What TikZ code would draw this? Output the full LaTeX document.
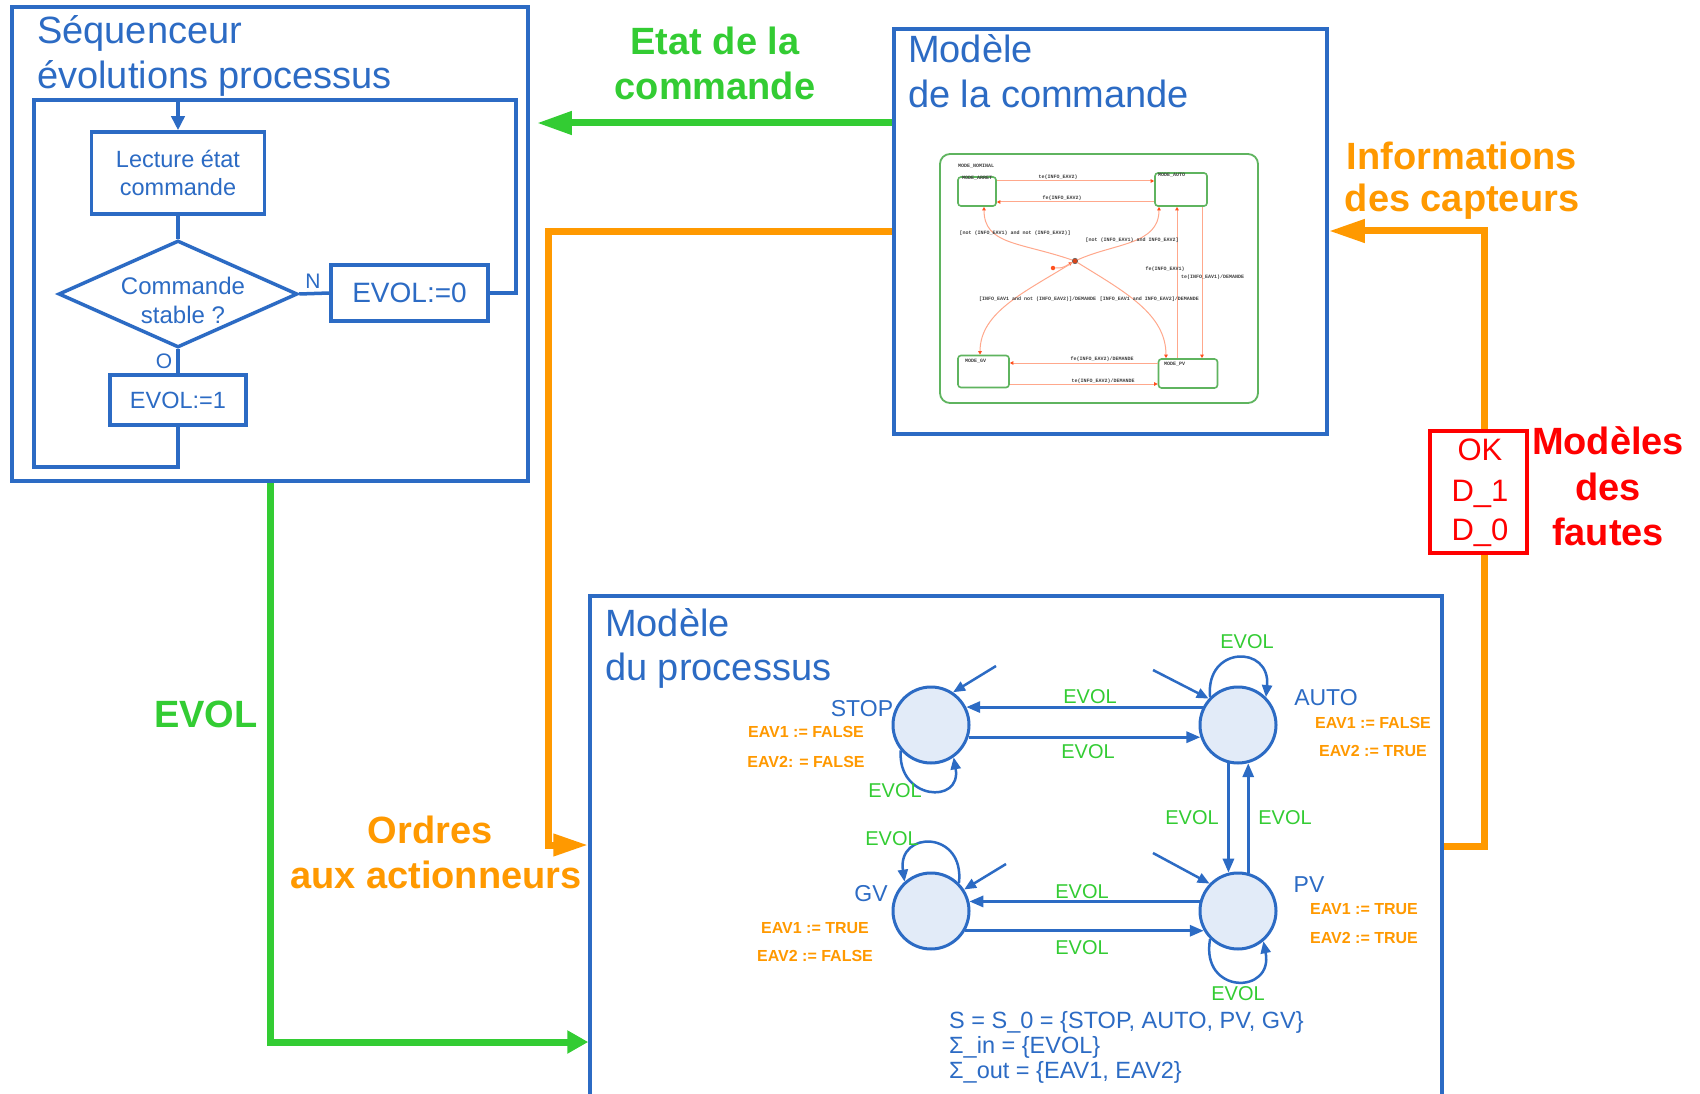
\documentclass[tikz,border=0pt]{standalone}
\usepackage{fontspec}
\setmainfont{Liberation Sans}
\newfontfamily\scmono{Liberation Mono}
\usetikzlibrary{arrows.meta,shapes.geometric}
\definecolor{bl}{RGB}{44,107,196}
\definecolor{gr}{RGB}{51,204,51}
\definecolor{org}{RGB}{255,153,0}
\definecolor{rd}{RGB}{255,0,0}
\definecolor{stfill}{RGB}{226,235,248}
\definecolor{scgreen}{RGB}{95,180,95}
\definecolor{sctr}{RGB}{255,168,140}
\definecolor{scarr}{RGB}{255,80,30}
\tikzset{
  bigbox/.style={draw=bl, line width=3.5pt, inner sep=0pt},
  ttl/.style={text=bl, font=\fontsize{38}{45}\selectfont, anchor=base west, inner sep=0pt},
  fbox/.style={draw=bl, line width=3.5pt, text=bl, align=center, inner sep=0pt},
  fline/.style={draw=bl, line width=3.5pt},
  farrow/.style={fline, -{Triangle[length=14pt,width=13pt]}},
  bigtxt/.style={font=\bfseries\fontsize{38}{45}\selectfont, anchor=base, inner sep=0pt},
  garrow/.style={draw=gr, line width=7pt, -{Triangle[length=35pt,width=22pt]}},
  garrowb/.style={draw=gr, line width=7pt, -{Triangle[length=21pt,width=22pt]}},
  oarrow/.style={draw=org, line width=7pt, -{Triangle[length=35pt,width=21pt]}},
  oarrowb/.style={draw=org, line width=7pt, -{Triangle[length=36pt,width=22pt]}},
  fautetxt/.style={text=rd, font=\fontsize{31}{37}\selectfont, anchor=base, inner sep=0pt},
  stbox/.style={draw=scgreen, line width=1.6pt, rounded corners=3pt, inner sep=0pt},
  sctrans/.style={draw=sctr, line width=1pt, -{Triangle[length=3.5pt,width=3.5pt,color=scarr]}},
  sclab/.style={font={\scmono\bfseries\fontsize{5}{6}\selectfont}, text=black!75, inner sep=0pt},
  st/.style={circle, draw=bl, fill=stfill, line width=3pt, minimum size=76pt, inner sep=0pt},
  ptr/.style={draw=bl, line width=3pt, -{Triangle[length=14pt,width=11pt]}},
  ploop/.style={draw=bl, line width=2.5pt, -{Triangle[length=12pt,width=10pt]}},
  stname/.style={text=bl, font=\fontsize{23}{27}\selectfont, inner sep=0pt},
  ev/.style={text=gr, font=\fontsize{20}{24}\selectfont, inner sep=0pt},
  eav/.style={text=org, font=\bfseries\fontsize{16}{19}\selectfont, inner sep=0pt},
  sigtxt/.style={text=bl, font=\fontsize{23.5}{25}\selectfont, anchor=base west, inner sep=0pt}
}
\begin{document}
\begin{tikzpicture}[x=1pt,y=-1pt]
\fill[white] (0,0) rectangle (1700,1094);
\useasboundingbox (0,0) rectangle (1700,1094);

% ---------------- Sequenceur ----------------
\node[bigbox, minimum width=516pt, minimum height=474pt] (seq) at (270,244) {};
\node[ttl] (seqt1) at (37,44) {Séquenceur};
\node[ttl] (seqt2) at (37,89) {évolutions processus};
\node[fbox, minimum width=173pt, minimum height=82pt, font=\fontsize{23.5}{28}\selectfont] (lect) at (178,173) {Lecture état\\commande};
\node[diamond, draw=bl, line width=3.5pt, minimum width=239pt, minimum height=107pt, inner sep=0pt] (dia) at (178,294) {};
\node[text=bl, align=center, font=\fontsize{24}{29}\selectfont, inner sep=0pt] (diat) at (183,300) {Commande\\stable ?};
\node[fbox, minimum width=157pt, minimum height=56pt, font=\fontsize{28}{34}\selectfont] (e0) at (409.5,293) {EVOL:=0};
\node[fbox, minimum width=136pt, minimum height=50pt, font=\fontsize{23.5}{28}\selectfont] (e1) at (178,400) {EVOL:=1};
\node[text=bl, font=\fontsize{21}{25}\selectfont, inner sep=0pt] (lN) at (313,281) {N};
\node[text=bl, font=\fontsize{21}{25}\selectfont, inner sep=0pt] (lO) at (164,361) {O};
\coordinate (c1) at (34,467);
\coordinate (c2) at (34,100);
\coordinate (c3) at (516,100);
\draw[fline] (e1.south) -- (e1.south |- c1) -- (c1) -- (c2) -- (c3) -- (c3 |- e0.east) -- (e0.east);
\draw[farrow] (lect.north |- c2) -- (lect.north);
\draw[fline] (lect.south) -- (dia.north);
\draw[fline] (dia.east) -- (e0.west);
\draw[fline] (dia.south) -- (e1.north);

% ---------------- Modele de la commande ----------------
\node[bigbox, minimum width=433pt, minimum height=405pt] (cmd) at (1110.5,231.5) {};
\node[ttl] (cmdt1) at (908,63) {Modèle};
\node[ttl] (cmdt2) at (908,108) {de la commande};

% statechart picture
\node[draw=scgreen, line width=1.8pt, rounded corners=10pt, minimum width=318pt, minimum height=249pt, inner sep=0pt] (sc) at (1099,278.5) {};
\node[stbox, minimum width=38pt, minimum height=29pt] (arret) at (977,191.5) {};
\node[stbox, minimum width=52pt, minimum height=33pt] (sauto) at (1181,189.5) {};
\node[stbox, minimum width=51pt, minimum height=32pt] (sgv) at (983.5,371.5) {};
\node[stbox, minimum width=59pt, minimum height=29pt] (spv) at (1188,373.5) {};
\node[sclab, anchor=west] (lnom) at (958,166) {MODE\_NOMINAL};
\node[sclab, anchor=west] (larr) at (962,178) {MODE\_ARRET};
\node[sclab, anchor=west] (laut) at (1158,175) {MODE\_AUTO};
\node[sclab, anchor=west] (lgv) at (965,361) {MODE\_GV};
\node[sclab, anchor=west] (lpv) at (1164,364) {MODE\_PV};
\node[circle, fill=scarr!85!black, draw=black!60, line width=0.6pt, minimum size=5.5pt, inner sep=0pt] (junc) at (1075,261) {};
\node[circle, fill=scarr, minimum size=4.5pt, inner sep=0pt] (ini) at (1053,268) {};
\draw[sctrans] (ini) .. controls (1062,268) .. (junc);
\draw[sctrans] ([yshift=10.5pt]arret.east) -- ([yshift=10.5pt]arret.east -| sauto.west);
\draw[sctrans] ([yshift=-12.5pt]sauto.west) -- ([yshift=-12.5pt]sauto.west -| arret.east);
\draw[sctrans] ([xshift=-11pt]spv.north) -- ([xshift=-11pt]spv.north |- sauto.south);
\draw[sctrans] ([xshift=21pt]sauto.south) -- ([xshift=21pt]sauto.south |- spv.north);
\draw[sctrans] ([yshift=10.5pt]spv.west) -- ([yshift=10.5pt]spv.west -| sgv.east);
\draw[sctrans] ([yshift=-12.5pt]sgv.east) -- ([yshift=-12.5pt]sgv.east -| spv.west);
\draw[sctrans] (junc) .. controls (1020,242) and (984,245) .. ([xshift=7pt]arret.south);
\draw[sctrans] (junc) .. controls (1115,243) and (1159,245) .. ([xshift=-22pt]sauto.south);
\draw[sctrans] (junc) .. controls (1025,292) and (980,312) .. ([xshift=-3.5pt]sgv.north);
\draw[sctrans] (junc) .. controls (1125,292) and (1166,314) .. ([xshift=-22pt]spv.north);
\node[sclab] (t1) at (1058,177) {te(INFO\_EAV2)};
\node[sclab] (t2) at (1062,198) {fe(INFO\_EAV2)};
\node[sclab] (t3) at (1015,233) {[not (INFO\_EAV1) and not (INFO\_EAV2)]};
\node[sclab] (t4) at (1132,240) {[not (INFO\_EAV1) and INFO\_EAV2]};
\node[sclab, anchor=west] (t5) at (979,299) {[INFO\_EAV1 and not (INFO\_EAV2)]/DEMANDE};
\node[sclab, anchor=east] (t6) at (1199,299) {[INFO\_EAV1 and INFO\_EAV2]/DEMANDE};
\node[sclab] (t7) at (1165,269) {fe(INFO\_EAV1)};
\node[sclab, anchor=west] (t8) at (1181,277) {te(INFO\_EAV1)/DEMANDE};
\node[sclab] (t9) at (1102,359) {fe(INFO\_EAV2)/DEMANDE};
\node[sclab] (t10) at (1103,381) {te(INFO\_EAV2)/DEMANDE};

% ---------------- Modele du processus ----------------
\node[bigbox, minimum width=852pt, minimum height=520pt] (proc) at (1016,856) {};
\node[ttl] (prt1) at (605,636) {Modèle};
\node[ttl] (prt2) at (605,680) {du processus};

\node[st] (stop) at (931,725) {};
\node[st] (auto) at (1238,725) {};
\node[st] (gv) at (931,911) {};
\node[st] (pv) at (1238,911) {};

\draw[ptr] (auto.153) -- (stop.27);
\draw[ptr] (stop.-18) -- (auto.198);
\draw[ptr] (pv.166) -- (gv.14);
\draw[ptr] (gv.-30) -- (pv.210);
\draw[ptr] (auto.-104) -- (pv.104);
\draw[ptr] (pv.75) -- (auto.-75);

\draw[ploop] (stop.-140) .. controls (897,800) and (962,805) .. (stop.-55);
\draw[ploop] (auto.135) .. controls (1205,645) and (1271,645) .. (auto.45);
\draw[ploop] (gv.45) .. controls (965,830) and (897,830) .. (gv.132);
\draw[ploop] (pv.-135) .. controls (1200,995) and (1274,995) .. (pv.-50);

\coordinate (stopin) at (996,666);
\coordinate (autoin) at (1153,670);
\coordinate (gvin) at (1006,864);
\coordinate (pvin) at (1153,853);
\draw[ploop] (stopin) -- (stop.56);
\draw[ploop] (autoin) -- (auto.138);
\draw[ploop] (gvin) -- (gv.33);
\draw[ploop] (pvin) -- (pv.136);

\node[stname] (nstop) at (862,709) {STOP};
\node[stname] (nauto) at (1326,698) {AUTO};
\node[stname] (ngv) at (871,894) {GV};
\node[stname] (npv) at (1309,885) {PV};

\node[ev] (ev1) at (1090,697) {EVOL};
\node[ev] (ev2) at (1088,752) {EVOL};
\node[ev] (ev3) at (1192,818) {EVOL};
\node[ev] (ev4) at (1285,818) {EVOL};
\node[ev] (ev5) at (1082,892) {EVOL};
\node[ev] (ev6) at (1082,948) {EVOL};
\node[ev] (ev7) at (895,791) {EVOL};
\node[ev] (ev8) at (1247,642) {EVOL};
\node[ev] (ev9) at (892,839) {EVOL};
\node[ev] (ev10) at (1238,994) {EVOL};

\node[eav] (a1) at (806,732) {EAV1 := FALSE};
\node[eav] (a2) at (806,762) {EAV2: = FALSE};
\node[eav] (a3) at (1373,723) {EAV1 := FALSE};
\node[eav] (a4) at (1373,751) {EAV2 := TRUE};
\node[eav] (a5) at (815,928) {EAV1 := TRUE};
\node[eav] (a6) at (815,956) {EAV2 := FALSE};
\node[eav] (a7) at (1364,909) {EAV1 := TRUE};
\node[eav] (a8) at (1364,938) {EAV2 := TRUE};

\node[sigtxt] (s1) at (949,1028) {S = S\_0 = \{STOP, AUTO, PV, GV\}};
\node[sigtxt] (s2) at (949,1053) {Σ\_in = \{EVOL\}};
\node[sigtxt] (s3) at (949,1078) {Σ\_out = \{EAV1, EAV2\}};

% ---------------- Flows ----------------
\coordinate (ey) at (0,123);
\draw[garrow] (cmd.west |- ey) -- ([xshift=7pt]seq.east |- ey);
\node[bigtxt, text=gr] (etat1) at (715,55) {Etat de la};
\node[bigtxt, text=gr] (etat2) at (715,100) {commande};

\coordinate (oy) at (0,232);
\coordinate (ox) at (548,0);
\coordinate (oy2) at (0,845);
\draw[oarrow] (cmd.west |- oy) -- (ox |- oy) -- (ox |- oy2) -- (proc.west |- oy2);
\node[bigtxt, text=org] (ord1) at (430,843) {Ordres};
\node[bigtxt, text=org] (ord2) at (436,888) {aux actionneurs};

\coordinate (gx) at (270,0);
\coordinate (gy) at (0,1042);
\draw[garrowb] (seq.south -| gx) -- (gx |- gy) -- (proc.west |- gy);
\node[bigtxt, text=gr] (evbig) at (206,727) {EVOL};

\coordinate (ix) at (1484,0);
\coordinate (iy1) at (0,846);
\coordinate (iy2) at (0,231);
\draw[oarrowb] (proc.east |- iy1) -- (ix |- iy1) -- (ix |- iy2) -- (cmd.east |- iy2);
\node[bigtxt, text=org] (inf1) at (1462,170) {Informations};
\node[bigtxt, text=org] (inf2) at (1462,212) {des capteurs};

\node[draw=rd, line width=3.3pt, fill=white, minimum width=97pt, minimum height=122pt, inner sep=0pt] (fbx) at (1478.5,492) {};
\node[fautetxt] (fok) at (1480,460) {OK};
\node[fautetxt] (fd1) at (1480,501) {D\_1};
\node[fautetxt] (fd0) at (1480,540) {D\_0};
\node[bigtxt, text=rd] (mf1) at (1608,454) {Modèles};
\node[bigtxt, text=rd] (mf2) at (1608,500) {des};
\node[bigtxt, text=rd] (mf3) at (1608,545) {fautes};
\end{tikzpicture}
\end{document}
